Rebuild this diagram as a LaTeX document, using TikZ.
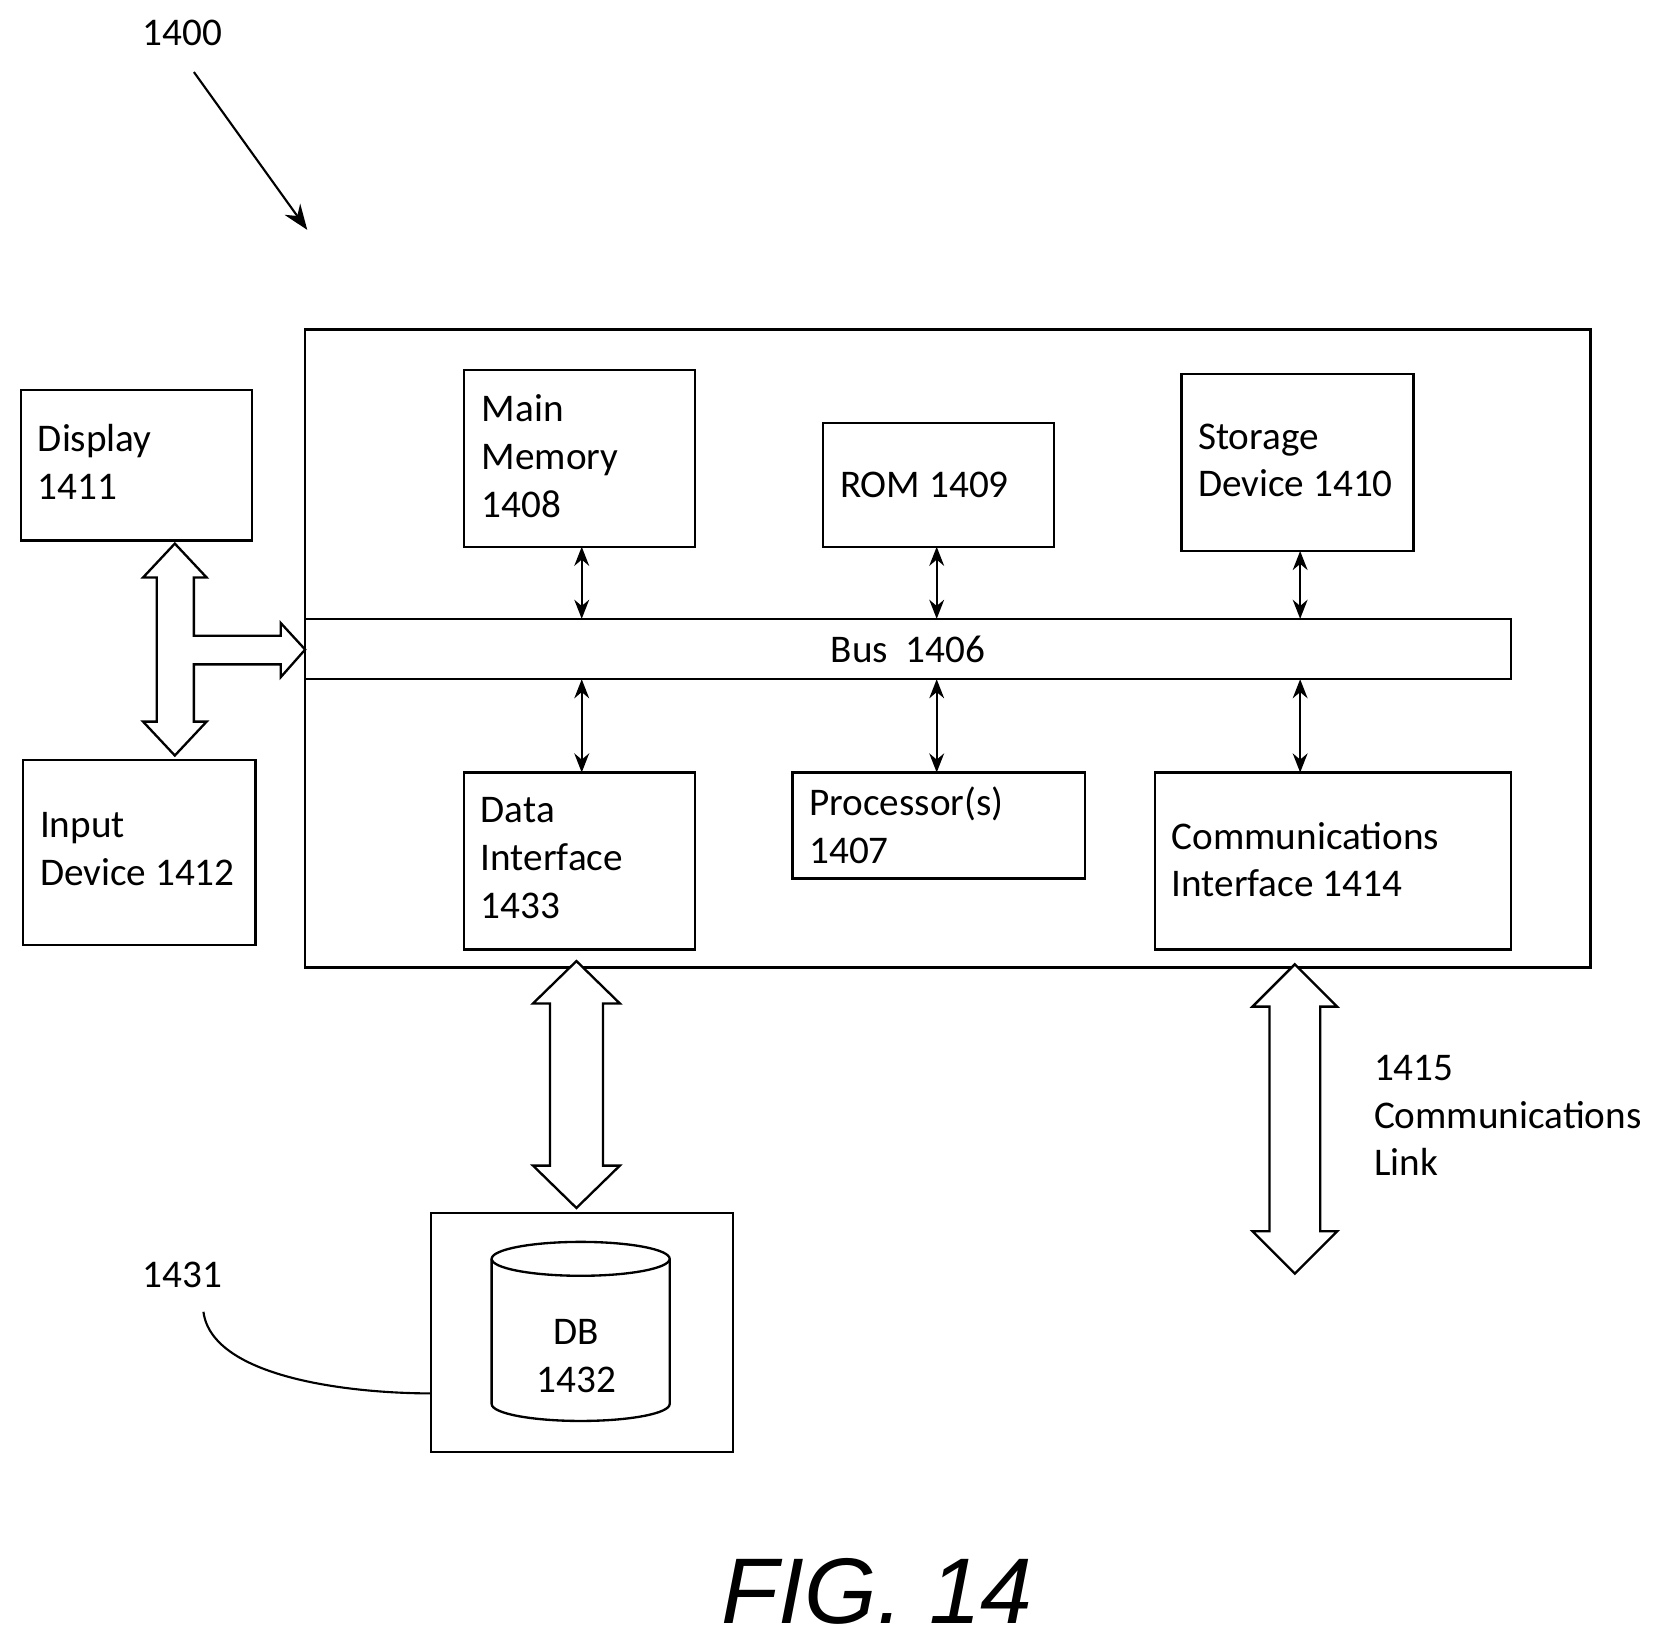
\documentclass[tikz,border=0pt]{standalone}
\usepackage{fontspec}
\setmainfont{Carlito}
\newfontfamily\figfont{Liberation Sans}
\usetikzlibrary{arrows.meta,shapes.geometric}
\newcommand\hdarrow[6]{%
\draw[fill=white] (#1,#2) -- ++(#5,#6) -- (#1+#4,#2+#6) -- (#1+#4,#3-#6) -- (#1+#5,#3-#6) -- (#1,#3) -- (#1-#5,#3-#6) -- (#1-#4,#3-#6) -- (#1-#4,#2+#6) -- (#1-#5,#2+#6) -- cycle;}
\begin{document}
\begin{tikzpicture}[x=0.5pt,y=-0.5pt,line width=1.1pt,
 lbl/.style={font=\fontsize{18.5}{22.5}\selectfont,align=left},
 sa/.style={{Stealth[length=9pt,width=7pt]}-{Stealth[length=9pt,width=7pt]},line width=1pt}]
\useasboundingbox (0,0) rectangle (1560,1554);
\draw (288,311) rectangle (1501,913);
\draw (20,368) rectangle (238,510);
\node[lbl,anchor=north west] (disp) at (28,393) {Display\\1411};
\draw (22,717) rectangle (241,892);
\node[lbl,anchor=north west] (inp) at (30,759) {Input\\Device 1412};
\draw (438,349) rectangle (656,516);
\node[lbl,anchor=north west] (mm) at (447,365) {Main\\Memory\\1408};
\draw (777,399) rectangle (995,516);
\node[lbl,anchor=west] (rom) at (785,458) {ROM 1409};
\draw (1115,353) rectangle (1334,520);
\node[lbl,anchor=north west] (sto) at (1123,392) {Storage\\Device 1410};
\draw (288,584) rectangle (1426,641);
\node[lbl] (bus) at (857,613) {Bus\ \ 1406};
\draw (438,729) rectangle (656,896);
\node[lbl,anchor=north west] (di) at (446,745) {Data\\Interface\\1433};
\draw (748,729) rectangle (1024,829);
\node[lbl,anchor=north west] (pr) at (756,735) {Processor(s)\\1407};
\draw (1090,729) rectangle (1426,896);
\node[lbl,anchor=north west] (ci) at (1098,768) {Communications\\Interface 1414};
\coordinate (a1) at (549,516); \coordinate (b1) at (549,584);
\coordinate (a2) at (884,516); \coordinate (b2) at (884,584);
\coordinate (a3) at (1227,520); \coordinate (b3) at (1227,584);
\coordinate (c1) at (549,641); \coordinate (d1) at (549,729);
\coordinate (c2) at (884,641); \coordinate (d2) at (884,729);
\coordinate (c3) at (1227,641); \coordinate (d3) at (1227,729);
\foreach \i in {1,2,3}{\draw[sa] (a\i) -- (b\i); \draw[sa] (c\i) -- (d\i);}
% display/input arrow
\draw[fill=white] (165,513) -- (195,545) -- (183,545) -- (183,600) -- (265,600) -- (265,588) -- (288,613) -- (265,639) -- (265,627) -- (183,627) -- (183,681) -- (195,681) -- (165,713) -- (135,681) -- (148,681) -- (148,545) -- (135,545) -- cycle;
\hdarrow{544}{907}{1140}{25}{41}{40}
\hdarrow{1222}{910}{1202}{24}{40}{40}
% DB
\draw (407,1145) rectangle (692,1370);
\draw[fill=white] (464,1188) -- (464,1325) arc[start angle=180,end angle=0,x radius=84,y radius=16] -- (632,1188);
\draw[fill=white] (548,1188) ellipse[x radius=84,y radius=16];
\node[lbl,align=center] (db) at (544,1280) {DB\\1432};
\node[lbl] (l1400) at (172,31) {1400};
\coordinate (t1400) at (290,217);
\draw[line width=1pt,-{Stealth[length=12pt,width=9pt]}] (183,68) -- (t1400);
\node[lbl] (l1431) at (172,1203) {1431};
\coordinate (e1431) at (407,1315);
\draw[line width=1pt] (192,1238) .. controls (200,1300) and (330,1315) .. (e1431);
\node[lbl,anchor=north west] (l1415) at (1289,988) {1415\\Communications\\Link};
\node[font=\figfont\itshape\fontsize{44}{50}\selectfont] (fig) at (828,1502) {FIG. 14};
\end{tikzpicture}
\end{document}
